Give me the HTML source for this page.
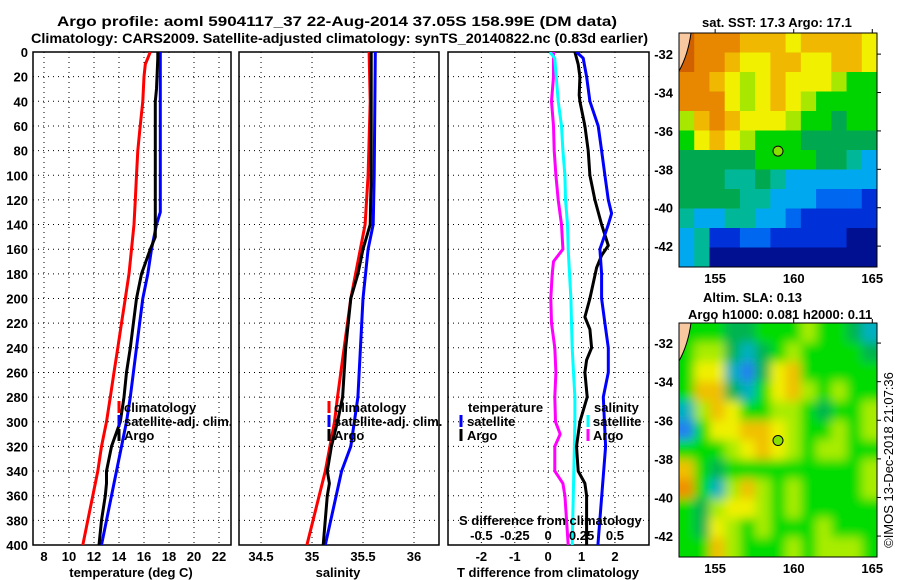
<!DOCTYPE html>
<html><head><meta charset="utf-8">
<style>
html,body{margin:0;padding:0;background:#fff;}
svg{display:block;font-family:"Liberation Sans",sans-serif;font-weight:bold;}
</style></head>
<body>
<svg id="fig" width="900" height="580" viewBox="0 0 900 580" xmlns="http://www.w3.org/2000/svg">
<defs>
<clipPath id="c1"><rect x="33" y="52" width="198" height="493"/></clipPath>
<clipPath id="c2"><rect x="239" y="52" width="200" height="493"/></clipPath>
<clipPath id="c3"><rect x="448" y="52" width="201" height="493"/></clipPath>
<clipPath id="cm1"><rect x="679" y="33" width="198" height="234"/></clipPath>
<clipPath id="cm2"><rect x="679" y="323" width="198" height="234"/></clipPath>
<filter id="blur" x="-10%" y="-10%" width="120%" height="120%"><feGaussianBlur stdDeviation="5"/></filter>
</defs>
<text x="57" y="26" font-size="14" textLength="560" lengthAdjust="spacingAndGlyphs">Argo profile: aoml 5904117_37 22-Aug-2014 37.05S 158.99E (DM data)</text>
<text x="31" y="43" font-size="14" textLength="617" lengthAdjust="spacingAndGlyphs">Climatology: CARS2009. Satellite-adjusted climatology: synTS_20140822.nc (0.83d earlier)</text>
<g id="g1"></g>
<g id="g2"></g>
<g id="g3"></g>
<g id="m1"></g>
<g id="m2"></g>
<text transform="translate(893,460) rotate(-90)" text-anchor="middle" font-size="13" font-weight="normal">©IMOS 13-Dec-2018 21:07:36</text>
</svg>
<script>
// ---- data ----
const depthTicks = [0,20,40,60,80,100,120,140,160,180,200,220,240,260,280,300,320,340,360,380,400];
const tempTicks = [8,10,12,14,16,18,20,22];
const salTicks = [34.5,35,35.5,36];
const salTickLabels = ["34.5","35","35.5","36"];
const tdiffTicks = [-2,-1,0,1,2];
const sdiffTicks = [-0.5,-0.25,0,0.25,0.5];
const sdiffTickLabels = ["-0.5","-0.25","0","0.25","0.5"];

const tClimDepth = [0,5,10,20,40,60,80,100,120,140,160,180,200,220,240,260,280,300,320,340,360,380,400];
const tClimVal = [16.5,16.3,16.1,16.0,15.9,15.7,15.5,15.4,15.3,15.2,15.0,14.8,14.5,14.2,13.9,13.6,13.3,13.0,12.6,12.3,11.9,11.5,11.1];
const tSatDepth = [0,40,80,130,140,160,180,200,240,280,300,340,400];
const tSatVal = [17.3,17.3,17.3,17.3,17.0,16.6,16.3,15.9,15.4,14.9,14.6,13.8,12.6];
const tArgoDepth = [0,5,30,40,100,150,160,180,200,240,260,280,300,320,340,350,360,380,400];
const tArgoVal = [17.1,17.1,17.0,16.9,16.9,16.9,16.5,15.8,15.4,14.9,14.6,14.4,14.1,13.4,13.0,13.0,12.9,12.6,12.4];

const sClimDepth = [0,40,100,140,200,280,300,340,400];
const sClimVal = [35.56,35.57,35.55,35.52,35.38,35.25,35.22,35.13,34.95];
const sSatDepth = [0,100,140,160,200,280,320,340,400];
const sSatVal = [35.62,35.61,35.6,35.55,35.5,35.45,35.38,35.29,35.13];
const sArgoDepth = [0,100,140,160,180,200,240,280,300,320,340,350,360,400];
const sArgoVal = [35.58,35.58,35.57,35.5,35.45,35.38,35.33,35.3,35.25,35.19,35.15,35.17,35.15,35.11];

const dTSatDepth = [0,5,20,40,60,80,100,120,131,140,152,160,180,200,220,240,260,280,320,400];
const dTSatVal = [0.85,1.05,1.15,1.25,1.5,1.6,1.7,1.8,1.9,1.8,1.65,1.55,1.6,1.6,1.7,1.8,1.8,1.65,1.72,1.49];
const dTArgoDepth = [0,10,20,35,40,60,80,100,120,140,157,165,175,200,215,225,240,250,260,280,300,320,340,350,360,400];
const dTArgoVal = [0.8,0.9,0.95,0.93,0.95,1.1,1.2,1.25,1.4,1.6,1.8,1.6,1.45,1.25,1.1,1.25,1.3,1.15,1.1,1.17,0.95,0.85,0.9,1.1,1.15,1.15];
const dSSatDepth = [0,5,20,40,60,80,100,120,140,160,180,200,220,240,260,280,300,400];
const dSSatVal = [0.0125,0.05,0.06,0.075,0.1,0.11,0.125,0.13,0.145,0.15,0.16,0.17,0.175,0.18,0.19,0.2,0.2,0.18];
const dSArgoDepth = [0,20,40,60,80,100,120,140,160,170,180,200,220,240,260,280,300,310,320,340,350,360,400];
const dSArgoVal = [0.04,0.04,0.025,0.04,0.045,0.058,0.075,0.1,0.11,0.04,0.03,0.02,0.025,0.05,0.058,0.05,0.055,0.09,0.05,0.05,0.11,0.125,0.15];

const sstGrid = [
[11,10,10,10,9,9,9,8,9,9,9,9,8],
[11,10,10,9,8,8,9,9,8,8,9,9,8],
[10,10,9,8,7,8,9,8,8,8,7,6,6],
[10,10,10,8,7,8,9,8,7,6,6,6,6],
[7,9,10,9,8,8,8,7,6,6,5,6,6],
[6,8,9,8,7,6,6,6,5,5,5,5,5],
[5,5,5,5,5,6,6,6,6,5,5,4,3],
[5,5,5,4,4,5,4,3,3,3,3,3,3],
[5,5,5,5,4,4,3,3,3,2,2,2,1],
[4,3,3,4,4,3,3,2,1,1,1,1,1],
[3,4,1,1,2,2,1,1,1,1,1,0,0],
[3,4,0,0,0,0,0,0,0,0,0,0,0]];
const slaGrid = [
[3,3,3,2,2,3,3,3,4,3,3,2,1],
[3,4,4,2,1,2,3,4,3,3,3,3,2],
[3,5,5,1,0,2,5,6,3,3,3,3,3],
[3,6,6,2,1,3,5,6,4,3,4,3,3],
[1,4,6,5,3,3,4,4,3,2,3,3,4],
[0,3,5,5,6,6,5,4,3,3,4,3,4],
[3,3,3,4,5,6,5,4,3,4,4,3,3],
[6,3,2,3,3,3,3,3,3,3,3,3,4],
[7,3,1,4,6,4,3,4,3,3,3,3,4],
[3,2,4,5,5,4,3,4,3,3,3,3,3],
[3,2,5,4,3,4,3,3,3,4,3,3,3],
[3,3,6,4,3,3,3,4,3,4,4,4,3]];
const lonTicks = [155,160,165];
const latTicks = [-32,-34,-36,-38,-40,-42];
const argoLon = 159.0, argoLat = -37.05;

// ---- drawing ----
const NS="http://www.w3.org/2000/svg";
function mk(tag, attrs, parent){const e=document.createElementNS(NS,tag);for(const k in attrs)e.setAttribute(k,attrs[k]);parent.appendChild(e);return e;}
const Y0=52,Y1=545;
function yD(d){return Y0+(d/400)*(Y1-Y0);}
function lin(d0,d1,r0,r1){return v=>r0+(v-d0)/(d1-d0)*(r1-r0);}
const x1s=lin(7.12,22.96,33,231);
const x2s=lin(34.284,36.245,239,439);
const x3s=lin(-3.0,3.02,448,649);
const x3S=v=>x3s(v*4);

function frame(g,x0,x1,xt,xs,labels,showY){
  depthTicks.forEach(d=>{
    if(d>0&&d<400){const l=mk('line',{x1:x0,x2:x1,y1:yD(d),y2:yD(d),stroke:'#000','stroke-width':1,'stroke-dasharray':'1,4'},g);
    
    }
    if(showY){const t=mk('text',{x:28,y:yD(d)+5,'text-anchor':'end','font-size':13},g);t.textContent=d;
    
    }
  });
  xt.forEach((v,i)=>{
    const x=xs(v);
    const l=mk('line',{x1:x,x2:x,y1:Y0,y2:Y1,stroke:'#000','stroke-width':1,'stroke-dasharray':'1,4'},g);
    
    
    const t=mk('text',{x:x,y:561,'text-anchor':'middle','font-size':13},g);t.textContent=labels?labels[i]:v;
    
    
  });
  const r=mk('rect',{x:x0,y:Y0,width:x1-x0,height:Y1-Y0,fill:'none',stroke:'#000','stroke-width':1.5},g);
  
  
}
function curve(g,clip,ds,vs,xs,color,name){
  const pts=ds.map((d,i)=>xs(vs[i]).toFixed(1)+','+yD(d).toFixed(1)).join(' ');
  const p=mk('polyline',{points:pts,fill:'none',stroke:color,'stroke-width':3,'clip-path':'url(#'+clip+')','stroke-linejoin':'round'},g);
  
  
}
function txt(g,x,y,s,name,anchor,size){const t=mk('text',{x:x,y:y,'font-size':size||13,'text-anchor':anchor||'start'},g);t.textContent=s;
  
  return t;}
function mark(g,x,y,color){const l=mk('line',{x1:x,x2:x,y1:y-11,y2:y+1,stroke:color,'stroke-width':3},g);
  
  }

const g1=document.getElementById('g1');
frame(g1,33,231,tempTicks,x1s,null,true);
curve(g1,'c1',tClimDepth,tClimVal,x1s,'#ff0000','temperature-climatology-line');
curve(g1,'c1',tSatDepth,tSatVal,x1s,'#0000ff','temperature-satellite-line');
curve(g1,'c1',tArgoDepth,tArgoVal,x1s,'#000000','temperature-argo-line');
mark(g1,119,412,'#ff0000');mark(g1,119,426,'#0000ff');mark(g1,119,440,'#000');
txt(g1,124,412,'climatology','legend-climatology');txt(g1,124,426,'satellite-adj. clim.','legend-satellite');txt(g1,124,440,'Argo','legend-argo');
txt(g1,131,577,'temperature (deg C)','x-axis-title','middle');

const g2=document.getElementById('g2');
frame(g2,239,439,salTicks,x2s,salTickLabels,false);
curve(g2,'c2',sClimDepth,sClimVal,x2s,'#ff0000','salinity-climatology-line');
curve(g2,'c2',sSatDepth,sSatVal,x2s,'#0000ff','salinity-satellite-line');
curve(g2,'c2',sArgoDepth,sArgoVal,x2s,'#000000','salinity-argo-line');
mark(g2,329,412,'#ff0000');mark(g2,329,426,'#0000ff');mark(g2,329,440,'#000');
txt(g2,334,412,'climatology','legend-climatology');txt(g2,334,426,'satellite-adj. clim.','legend-satellite');txt(g2,334,440,'Argo','legend-argo');
txt(g2,338,577,'salinity','x-axis-title','middle');

const g3=document.getElementById('g3');
frame(g3,448,649,tdiffTicks,x3s,null,false);
curve(g3,'c3',dSArgoDepth,dSArgoVal,x3S,'#ff00ff','salinity-diff-argo-line');
curve(g3,'c3',dSSatDepth,dSSatVal,x3S,'#00ffff','salinity-diff-satellite-line');
curve(g3,'c3',dTArgoDepth,dTArgoVal,x3s,'#000000','temperature-diff-argo-line');
curve(g3,'c3',dTSatDepth,dTSatVal,x3s,'#0000ff','temperature-diff-satellite-line');
txt(g3,468,412,'temperature','legend-temperature-heading');
mark(g3,461,426,'#0000ff');txt(g3,467,426,'satellite','legend-t-satellite');
mark(g3,461,440,'#000');txt(g3,467,440,'Argo','legend-t-argo');
txt(g3,594,412,'salinity','legend-salinity-heading');
mark(g3,588,426,'#00ffff');txt(g3,593,426,'satellite','legend-s-satellite');
mark(g3,588,440,'#ff00ff');txt(g3,593,440,'Argo','legend-s-argo');
txt(g3,459,525,'S difference from climatology','s-axis-title');
sdiffTicks.forEach((v,i)=>{txt(g3,x3S(v),540,sdiffTickLabels[i],'s-tick-label','middle');});
txt(g3,548,577,'T difference from climatology','x-axis-title','middle');

const sstColors=['#001090','#0030d8','#0068f0','#00a8f0','#00b898','#00a850','#00d400','#a8e800','#f0f000','#f0b800','#e88800','#d06000'];
const slaColors=['#2080f0','#00b0c0','#00b450','#00dc00','#a8ec00','#f0f000','#f0c000','#f09000'];
const lonS=lin(152.7,165.3,679,877);
function drawMap(g,grid,colors,top,bot,latTop,latPerPx,clip,blur,title1,title2){
  const latY=lat=>top+(latTop-lat)*latPerPx;
  const bg=mk('rect',{x:679,y:top,width:198,height:bot-top,fill:colors[3]},g);
  
  
  const cg=mk('g',{'clip-path':'url(#'+clip+')'},g);
  const inner=mk('g',blur?{filter:'url(#blur)'}:{},cg);
  const rows=grid.length,cols=grid[0].length;
  const cw=198/cols,ch=(bot-top)/rows;
  grid.forEach((row,r)=>row.forEach((v,c)=>{
    const pad=blur?1:0.5;
    const x=679+c*cw-(blur&&c==0?15:0),y=top+r*ch-(blur&&r==0?15:0);
    const w=cw+pad+(blur&&(c==0||c==cols-1)?15:0),h=ch+pad+(blur&&(r==0||r==rows-1)?15:0);
    const e=mk('rect',{x:x,y:y,width:w,height:h,fill:colors[v]},inner);
    
    
  }));
  const coast=mk('path',{d:`M679 ${top} L691 ${top} Q688 ${top+22} 679 ${top+38} Z`,fill:'#f8c8a0',stroke:'none'},cg);
  
  
  const cl=mk('path',{d:`M691 ${top} Q688 ${top+22} 679 ${top+38}`,fill:'none',stroke:'#000','stroke-width':1},cg);
  
  
  const ci=mk('circle',{cx:lonS(argoLon),cy:latY(argoLat),r:5,fill:'#88e000',stroke:'#000','stroke-width':1},g);
  
  
  const fr=mk('rect',{x:679,y:top,width:198,height:bot-top,fill:'none',stroke:'#000','stroke-width':1},g);
  
  
  lonTicks.forEach(v=>{const x=lonS(v);
    mk('line',{x1:x,x2:x,y1:top-4,y2:top,stroke:'#000'},g);
    txt(g,x,bot+16,String(v),'lon-tick-label','middle');});
  latTicks.forEach(v=>{const y=latY(v);
    mk('line',{x1:877,x2:881,y1:y,y2:y,stroke:'#000'},g);
    txt(g,673,y+5,String(v),'lat-tick-label','end');});
  if(title1) txt(g,title1[1],title1[2],title1[0],'map-title');
  if(title2) txt(g,title2[1],title2[2],title2[0],'map-subtitle');
}
drawMap(document.getElementById('m1'),sstGrid,sstColors,33,267,-30.9,19.2,'cm1',false,['sat. SST: 17.3 Argo: 17.1',702,27],null);
drawMap(document.getElementById('m2'),slaGrid,slaColors,323,557,-30.96,19.3,'cm2',true,['Altim. SLA: 0.13',703,302],['Argo h1000: 0.081 h2000: 0.11',688,319]);
</script>
</body></html>
